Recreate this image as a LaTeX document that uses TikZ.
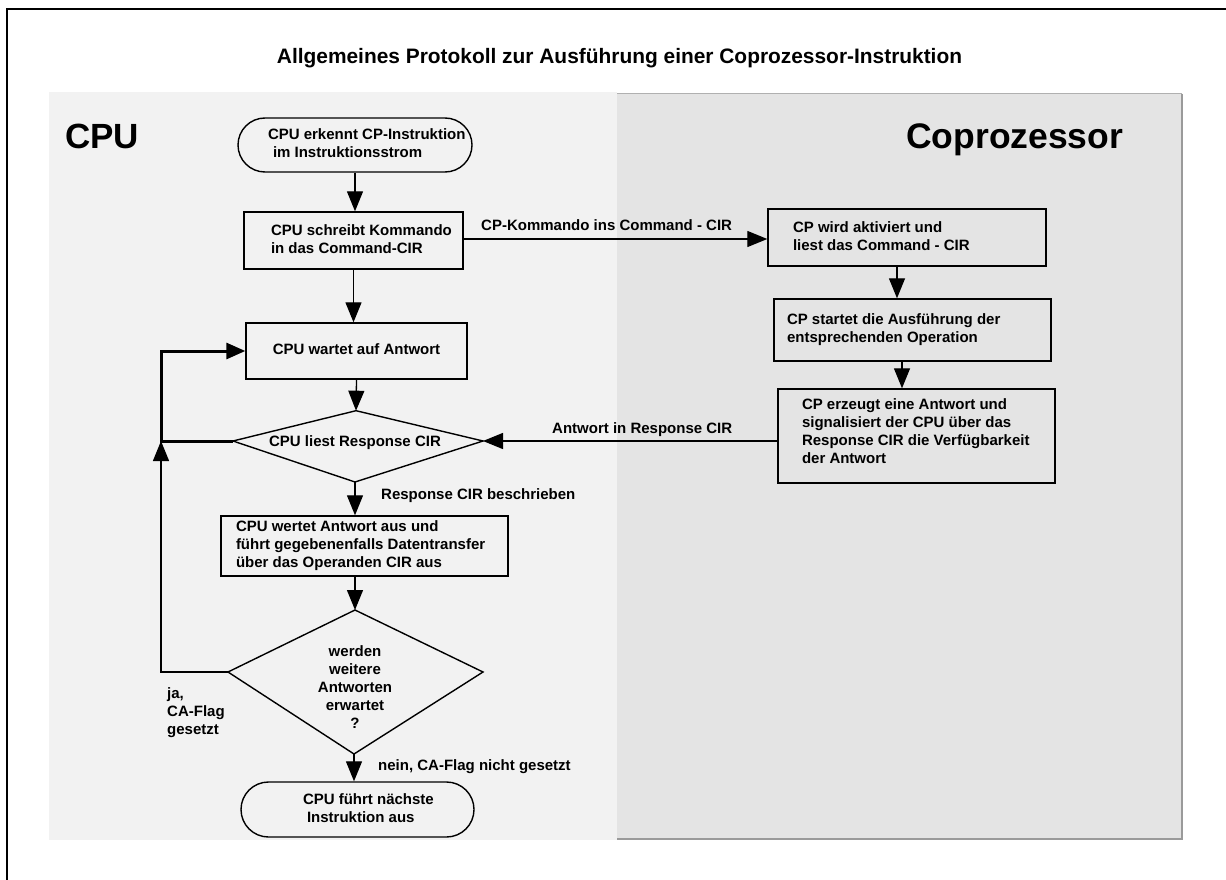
\documentclass[tikz,border=0pt]{standalone}
\usepackage{fontspec}
\setmainfont{Liberation Sans}
\usetikzlibrary{arrows.meta,calc}
\definecolor{cpubg}{HTML}{F2F2F2}
\definecolor{cobg}{HTML}{E4E4E4}
\definecolor{coedge}{HTML}{9A9A9A}
\definecolor{coedgetop}{HTML}{B0B0B0}
\newcommand\mytl[1]{\begin{tabular}[t]{@{}l@{}}#1\end{tabular}}
\newcommand\mytc[1]{\begin{tabular}[t]{@{}c@{}}#1\end{tabular}}
\newcommand\padbox[3]{\makebox[#1pt][l]{\hspace*{#2pt}\mytl{#3}}}
\begin{document}
\begin{tikzpicture}[x=1pt,y=-1pt,
  txt/.style={font=\fontsize{15pt}{18pt}\selectfont\bfseries, text=black},
  box/.style={txt, draw=black, line width=1.4pt, inner sep=0pt},
  term/.style={box, rounded corners=27pt},
  lbl/.style={txt, inner sep=0pt, anchor=base west},
  conn/.style={line width=1.3pt, -{Triangle[length=20pt,width=16pt]}},
  thickconn/.style={line width=3pt, line join=miter, -{Triangle[length=19pt,width=16pt]}},
  shape line/.style={line width=1.4pt, line join=miter},
]
\useasboundingbox (0,0) rectangle (1226,880);
\fill[white] (0,0) rectangle (1226,880);
% outer frame
\draw[line width=2pt] (7,882) -- (7,9) -- (1228,9);
% panels
\fill[cpubg] (49,92) rectangle (617,840);
\fill[cobg] (617,94) rectangle (1182,839);
\draw[coedgetop, line width=1pt] (617,94) -- (1182,94);
\draw[coedge, line width=2pt] (1182,94) -- (1182,839) -- (617,839);
% title and lane labels
\node[font=\fontsize{20.9pt}{24pt}\selectfont\bfseries, anchor=base, inner sep=0pt] (title) at (619.5,64) {Allgemeines Protokoll zur Ausführung einer Coprozessor-Instruktion};
\node[font=\fontsize{35pt}{40pt}\selectfont\bfseries, anchor=base west, inner sep=0pt] (cpu) at (65,149) {CPU};
\node[font=\fontsize{35.5pt}{40pt}\selectfont\bfseries, anchor=base west, inner sep=0pt] (cop) at (906,149) {Coprozessor};
% CPU side
\node[term, minimum height=54pt] (start) at (355,145) {\padbox{234}{30}{CPU erkennt CP-Instruktion\\\hspace*{5pt}im Instruktionsstrom}};
\node[box, minimum height=57pt] (b2) at (353.5,240.5) {\padbox{219}{27}{CPU schreibt Kommando\\in das Command-CIR}};
\node[box, minimum width=221pt, minimum height=56pt] (b3) at (356.5,351) {\mytc{CPU wartet auf Antwort}};
\coordinate (d1t) at (356,410.7);
\coordinate (d1l) at (233,441);
\coordinate (d1r) at (483,441);
\coordinate (d1b) at (355,482);
\draw[shape line] (d1t) -- (d1r) -- (d1b) -- (d1l) -- cycle;
\node[lbl, anchor=base] (d1) at (355,446.7) {CPU liest Response CIR};
\node[box, minimum height=60pt] (b4) at (364.5,546) {\padbox{287}{15}{CPU wertet Antwort aus und\\führt gegebenenfalls Datentransfer\\über das Operanden CIR aus}};
\coordinate (d2t) at (355,610);
\coordinate (d2l) at (228,672);
\coordinate (d2r) at (483,672);
\coordinate (d2b) at (354,754);
\draw[shape line] (d2t) -- (d2r) -- (d2b) -- (d2l) -- cycle;
\node[txt, inner sep=0pt, anchor=base] (d2) at (355,656) {\mytc{werden\\weitere\\Antworten\\erwartet\\?}};
\node[term, minimum height=55pt, rounded corners=27.5pt] (end) at (357.5,809.5) {\padbox{233}{62}{CPU führt nächste\\\hspace*{4pt}Instruktion aus}};
% Coprozessor side
\node[box, minimum height=57pt] (c1) at (907,237.5) {\padbox{278}{25}{CP wird aktiviert und\\liest das Command - CIR}};
\node[box, minimum height=62pt] (c2) at (912.5,330) {\padbox{277}{13}{CP startet die Ausführung der\\entsprechenden Operation}};
\node[box, minimum height=94pt] (c3) at (916.5,436) {\raisebox{3.6pt}[\height][\depth]{\padbox{277}{24}{CP erzeugt eine Antwort und\\signalisiert der CPU über das\\Response CIR die Verfügbarkeit\\der Antwort}}};
% connectors
\draw[conn] (start.south) -- (start.south |- b2.north);
\coordinate (a1) at ($(b2.east)+(0,-1.5)$);
\draw[conn] (a1) -- (a1 -| c1.west);
\node[lbl] (lab1) at (481,230.7) {CP-Kommando ins Command - CIR};
\draw[conn] (b2.south) -- (b2.south |- b3.north);
\draw[conn] (b3.south) -- (d1t);
\coordinate (a2) at ($(c1.south)+(-10,0)$);
\draw[conn] (a2) -- (a2 |- c2.north);
\coordinate (a3) at ($(c2.south)+(-10.5,0)$);
\draw[conn] (a3) -- (a3 |- c3.north);
\coordinate (a4) at (c3.west |- d1r);
\draw[conn] (a4) -- (d1r);
\node[lbl] (lab2) at (552,433) {Antwort in Response CIR};
\draw[conn] (d1b) -- (d1b |- b4.north);
\node[lbl] (lab3) at (381,499) {Response CIR beschrieben};
\draw[conn] (d2t |- b4.south) -- (d2t);
\draw[conn] (d2b) -- (d2b |- end.north);
\node[lbl] (lab4) at (378,770.7) {nein, CA-Flag nicht gesetzt};
\coordinate (loopA) at (161,441);
\draw[conn] (d2l) -| (loopA);
\draw[thickconn] (d1l) -- (loopA) |- (b3.west);
\node[lbl] (lab5) at (167,698.7) {\mytl{ja,\\CA-Flag\\gesetzt}};
\end{tikzpicture}
\end{document}
